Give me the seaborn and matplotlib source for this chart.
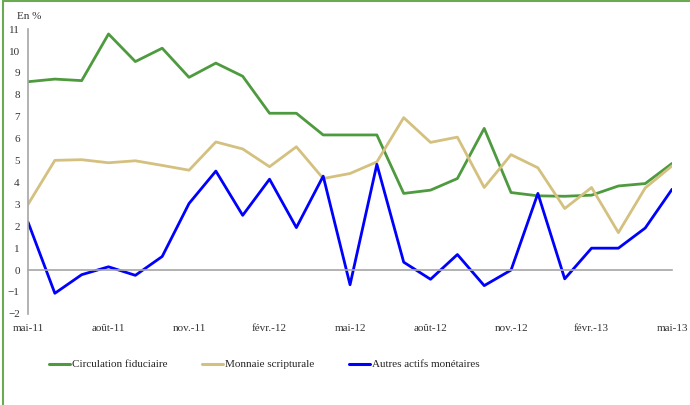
import numpy as np
import pandas as pd
import matplotlib
matplotlib.use("Agg")
import matplotlib.pyplot as plt
from matplotlib.lines import Line2D
import seaborn as sns

# Monthly data, mai-11 to mai-13
months = ['mai-11', 'juin-11', 'juil.-11', 'août-11', 'sept.-11', 'oct.-11', 'nov.-11',
          'déc.-11', 'janv.-12', 'févr.-12', 'mars-12', 'avr.-12', 'mai-12', 'juin-12',
          'juil.-12', 'août-12', 'sept.-12', 'oct.-12', 'nov.-12', 'déc.-12', 'janv.-13',
          'févr.-13', 'mars-13', 'avr.-13', 'mai-13']
circulation = [8.6, 8.72, 8.65, 10.78, 9.52, 10.13, 8.8, 9.45, 8.85, 7.16, 7.16, 6.17, 6.17,
               6.17, 3.5, 3.65, 4.18, 6.47, 3.54, 3.39, 3.37, 3.42, 3.84, 3.95, 4.87]
scripturale = [3.0, 5.01, 5.04, 4.9, 4.99, 4.78, 4.56, 5.85, 5.53, 4.72, 5.63, 4.18, 4.41,
               4.94, 6.96, 5.83, 6.07, 3.77, 5.27, 4.67, 2.81, 3.77, 1.71, 3.75, 4.76]
autres = [2.19, -1.06, -0.21, 0.15, -0.24, 0.62, 3.04, 4.52, 2.5, 4.15, 1.94, 4.29, -0.67,
          4.83, 0.36, -0.42, 0.71, -0.71, 0.0, 3.5, -0.4, 1.0, 1.0, 1.92, 3.69]
series_names = ['Circulation fiduciaire', 'Monnaie scripturale', 'Autres actifs monétaires']
colors = ['#4e9a3e', '#d4c07f', '#0000ff']

df = pd.DataFrame({'idx': np.arange(len(months)),
                   series_names[0]: circulation,
                   series_names[1]: scripturale,
                   series_names[2]: autres})
long = df.melt(id_vars='idx', var_name='serie', value_name='val')

sns.set_style('white')
plt.rcParams['font.family'] = ['Liberation Serif', 'DejaVu Serif']
grey = '#a6a6a6'

fig = plt.figure(figsize=(6.9, 4.05), dpi=100)
ax = fig.add_axes([0.0406, 0.225, 0.9334, 0.703])
sns.lineplot(data=long, x='idx', y='val', hue='serie', palette=colors,
             linewidth=2.0, ax=ax, legend=False)

ax.set_xlim(0, 24)
ax.set_ylim(-2, 11)
ax.set_yticks(range(-2, 12))
ax.set_xlabel('')
ax.set_ylabel('')
for s in ['top', 'right']:
    ax.spines[s].set_visible(False)
ax.spines['left'].set_color(grey)
ax.spines['left'].set_linewidth(1.2)
ax.spines['bottom'].set_position(('data', 0))
ax.spines['bottom'].set_color(grey)
ax.spines['bottom'].set_linewidth(1.2)
ax.set_xticks(range(0, 25, 3))
ax.tick_params(axis='x', direction='out', length=3, color=grey, labelbottom=False)
ax.tick_params(axis='y', direction='out', length=3, color=grey, labelsize=8, pad=3,
               labelcolor='#333333')

sec = ax.secondary_xaxis('bottom')
sec.set_xticks(range(0, 25, 3))
sec.set_xticklabels(months[::3], fontsize=8, color='#333333')
sec.tick_params(length=0, pad=7)
sec.spines['bottom'].set_visible(False)

fig.text(0.043, 0.96, 'En %', fontsize=8, color='#333333', ha='center', va='center')

handles = [Line2D([], [], color=c, lw=2.2) for c in colors]
fig.legend(handles, series_names, loc='center', bbox_to_anchor=(0.383, 0.1), ncol=3,
           frameon=False, fontsize=8, handlelength=1.9, handletextpad=0.2,
           columnspacing=3.1)

# green frame (left and top)
fig.add_artist(Line2D([0.004, 0.004], [0, 0.997], transform=fig.transFigure,
                      color='#6aaa52', lw=1.5))
fig.add_artist(Line2D([0.004, 1], [0.997, 0.997], transform=fig.transFigure,
                      color='#6aaa52', lw=1.5))

fig.savefig('out.png', dpi=100)
